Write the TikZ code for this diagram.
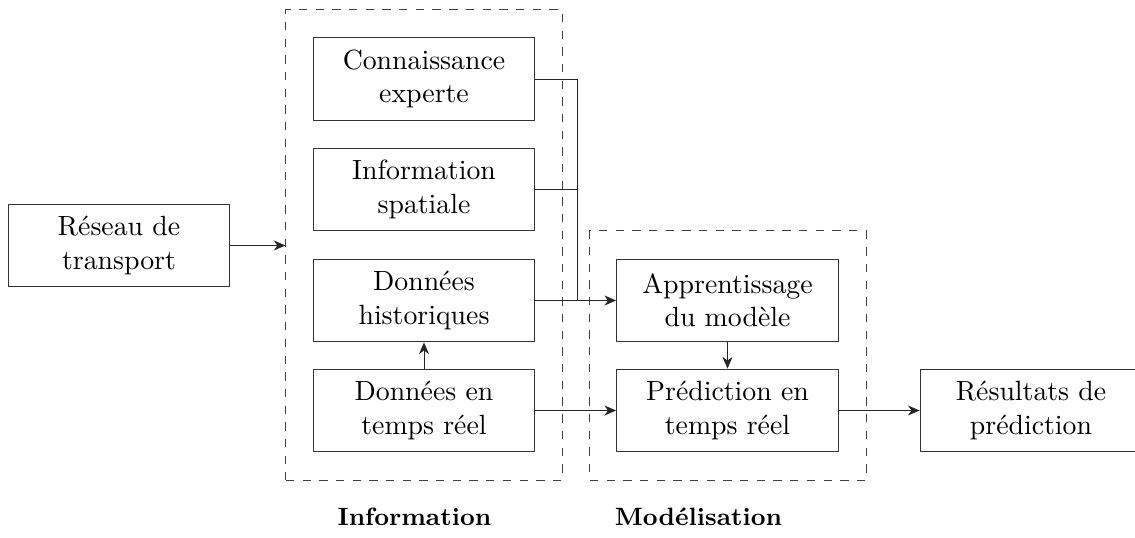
\documentclass[tikz,border=0pt]{standalone}
\usepackage{tikz}
\usetikzlibrary{shapes}
\usetikzlibrary{arrows.meta}

\begin{document}
\begin{tikzpicture}[x=0.3597pt,y=-0.3597pt]
\tikzstyle{bloc}=[rectangle,draw=black!80,line width=0.35pt,align=center,minimum width=79.8pt,minimum height=29.8pt,inner sep=1pt]
\tikzstyle{groupe}=[rectangle,draw=black!75,line width=0.35pt,dashed]
\tikzstyle{titre}=[font=\small\bfseries]
\tikzstyle{fleche}=[-{Stealth[length=4.2pt,width=3.6pt,inset=1.3pt]},draw=black!85,line width=0.35pt]
\tikzstyle{trait}=[draw=black!85,line width=0.35pt]
\useasboundingbox (0,0) rectangle (1135,538);
% groupes en pointilles
\node[groupe,minimum width=99.3pt,minimum height=169.1pt] (info) at (424,245) {};
\node[groupe,minimum width=99.3pt,minimum height=89.6pt] (model) at (728,355.5) {};
% blocs
\node[bloc] (reseau) at (119,245.5) {R\'eseau de\\transport};
\node[bloc] (expert) at (424,79) {Connaissance\\experte};
\node[bloc] (spatial) at (424,189.5) {Information\\spatiale};
\node[bloc] (histo) at (424,300.5) {Donn\'ees\\historiques};
\node[bloc] (temps) at (424,410.5) {Donn\'ees en\\temps r\'eel};
\node[bloc] (apprent) at (727.5,300.5) {Apprentissage\\du mod\`ele};
\node[bloc] (predict) at (727.5,410.5) {Pr\'ediction en\\temps r\'eel};
\node[bloc] (result) at (1031,410.5) {R\'esultats de\\pr\'ediction};
\node[titre] (tinfo) at (414.5,517) {Information};
\node[titre] (tmodel) at (698.5,517) {Mod\'elisation};
% liaisons
\coordinate (jonction) at (577,300.5);
\draw[fleche] (reseau) -- (info.west |- reseau);
\draw[trait] (expert.east) -| (jonction);
\draw[trait] (spatial.east) -| (jonction);
\draw[fleche] (histo) -- (apprent);
\draw[fleche] (temps) -- (histo);
\draw[fleche] (temps) -- (predict);
\draw[fleche] (apprent) -- (predict);
\draw[fleche] (predict) -- (result);
\end{tikzpicture}
\end{document}
